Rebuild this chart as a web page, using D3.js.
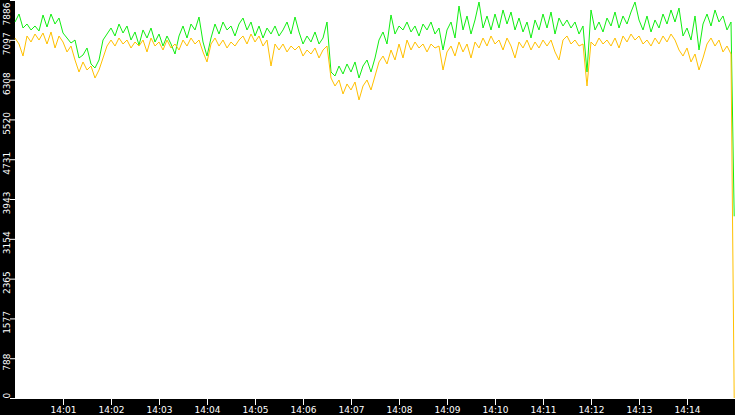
<!DOCTYPE html>
<html>
<head>
<meta charset="utf-8">
<script src="https://cdn.jsdelivr.net/npm/d3@7"></script>
<style>
  html, body { margin: 0; padding: 0; background: #000; overflow: hidden; }
  svg { display: block; }
  .axis text { font-family: "DejaVu Sans", sans-serif; font-size: 9px; fill: #fff; }
  .axis line, .axis path { stroke: #fff; }
</style>
</head>
<body>
<script>

// y axis tick labels (value scale tops out at 7886)
var yMax = 7886;
var yTicks = [0, 788, 1577, 2365, 3154, 3943, 4731, 5520, 6308, 7097, 7886];

// x axis: one tick per minute
var xTickLabels = ["14:01", "14:02", "14:03", "14:04", "14:05", "14:06", "14:07",
                   "14:08", "14:09", "14:10", "14:11", "14:12", "14:13", "14:14"];

// samples every 5 s from 14:00:00, last one at 14:14:59
var stepSec = 5;
var lastSec = 899;

var green = [
  7450, 7608, 7331, 7410, 7292, 7371, 7272, 7589, 7351, 7608,
  7410, 7529, 7232, 7133, 7034, 7093, 6737, 6796, 6935, 6618,
  6539, 6697, 7093, 7212, 7331, 7173, 7410, 7232, 7371, 7093,
  7252, 6994, 7292, 7133, 7331, 7054, 7212, 6974, 7173, 7014,
  6816, 7173, 7371, 7133, 7410, 7292, 7549, 7054, 6776, 7133,
  7410, 7212, 7450, 7292, 7371, 7173, 7410, 7529, 7292, 7450,
  7173, 7371, 7133, 7331, 7212, 7371, 7173, 7292, 7450, 7212,
  7549, 7252, 7014, 7173, 7054, 7252, 7014, 7133, 7450, 6459,
  6380, 6578, 6420, 6618, 6459, 6658, 6340, 6578, 6697, 6459,
  6737, 7093, 7252, 7014, 7589, 7212, 7371, 7292, 7450, 7252,
  7371, 7173, 7410, 7292, 7450, 7212, 7331, 6895, 7292, 7450,
  7133, 7767, 7292, 7569, 7212, 7490, 7846, 7331, 7569, 7292,
  7608, 7331, 7688, 7410, 7648, 7292, 7529, 7252, 7450, 7133,
  7490, 7292, 7608, 7331, 7648, 7212, 7529, 7371, 7490, 7331,
  7450, 7212, 7371, 6459, 7688, 7292, 7450, 7252, 7529, 7371,
  7648, 7331, 7569, 7410, 7648, 7846, 7490, 7292, 7569, 7252,
  7490, 7331, 7608, 7410, 7688, 7450, 7727, 7173, 7331, 7093,
  7569, 6895, 7410, 7608, 7371, 7688, 7450, 7569, 7292, 7450,
  3600
];

var orange = [
  7133, 7014, 6776, 7173, 7054, 7212, 7093, 7232, 7014, 7252,
  6935, 7173, 7054, 6856, 6974, 6697, 6459, 6658, 6499, 6578,
  6340, 6499, 6737, 6974, 7093, 6974, 7133, 7014, 7093, 6935,
  7054, 6974, 7093, 6856, 7133, 6974, 7054, 6895, 7093, 6935,
  7014, 6895, 7093, 6974, 7133, 7014, 7093, 6856, 6658, 7014,
  7133, 6974, 7093, 6935, 7054, 6974, 7093, 7173, 7014, 7212,
  7054, 7173, 6974, 7093, 6578, 7014, 6895, 7014, 6856, 6974,
  6895, 6974, 6776, 6895, 6816, 6935, 6737, 6895, 6974, 6340,
  6182, 6301, 6024, 6222, 6103, 6261, 5905, 6182, 6301, 6103,
  6380, 6658, 6776, 6618, 6895, 6697, 7014, 6737, 7093, 6895,
  7054, 6935, 7014, 6856, 7014, 6935, 6974, 6499, 6856, 6974,
  6776, 7054, 6856, 7014, 6737, 7054, 6935, 7133, 6974, 7173,
  7014, 7093, 6895, 7133, 6974, 6737, 7054, 6935, 7093, 6895,
  7054, 6935, 7093, 6974, 7093, 6856, 6697, 7093, 7173, 7014,
  7093, 6974, 7014, 6182, 7054, 6974, 7133, 7014, 7093, 6974,
  7133, 6935, 7173, 7054, 7212, 7093, 7173, 7014, 7093, 6974,
  7133, 7014, 7173, 7054, 7212, 7093, 6895, 6776, 6935, 6658,
  6816, 6499, 6737, 7014, 7133, 6974, 7093, 6856, 6974, 6816,
  0
];

var svg_width = 735,
    svg_height = 415,
    left = 15,
    bottom = 398;

var t0 = new Date(2000, 0, 1, 14, 0, 0);
function secToDate(s) { return new Date(t0.getTime() + s * 1000); }

// sample times: regular steps, last sample pinned to lastSec
var times = green.map(function (d, i) {
  return i === green.length - 1 ? secToDate(lastSec) : secToDate(i * stepSec);
});

var svg = d3.select("body").append("svg")
    .attr("width", svg_width)
    .attr("height", svg_height);

// black frame, white plot area
svg.append("rect")
    .attr("width", svg_width)
    .attr("height", svg_height)
    .attr("fill", "#000");

var x = d3.scaleTime()
    .domain([t0, secToDate(900)])
    .range([left, svg_width]);

var y = d3.scaleLinear()
    .domain([0, yMax])
    .range([bottom, 0]);

svg.append("rect")
    .attr("x", left)
    .attr("y", 0)
    .attr("width", svg_width - left)
    .attr("height", bottom)
    .attr("fill", "#fff");

// bottom axis
var parseHM = d3.timeParse("%H:%M");
var xTickDates = xTickLabels.map(function (s) {
  var p = parseHM(s);
  return new Date(2000, 0, 1, p.getHours(), p.getMinutes(), 0);
});

var xaxis = svg.append("g")
    .attr("class", "axis axis--x")
    .attr("transform", "translate(0," + bottom + ")")
    .call(d3.axisBottom(x)
        .tickValues(xTickDates)
        .tickFormat(function (d, i) { return xTickLabels[i]; })
        .tickSizeInner(7)
        .tickSizeOuter(0)
        .tickPadding(2));

xaxis.select(".domain").attr("d", "M" + (left - 5) + ",0.5H" + svg_width);
xaxis.selectAll("text").attr("dy", "0.72em");

// left axis, rotated labels a bit below the tick, clamped inside the plot height
var yaxis = svg.append("g")
    .attr("class", "axis axis--y")
    .attr("transform", "translate(" + left + ",0)")
    .call(d3.axisLeft(y)
        .tickValues(yTicks)
        .tickFormat(d3.format("d"))
        .tickSizeInner(5)
        .tickSizeOuter(0));

yaxis.select(".domain").remove();

yaxis.selectAll(".tick text")
    .attr("x", null)
    .attr("dy", null)
    .attr("text-anchor", "middle")
    .attr("transform", function (d) {
      var w = this.getComputedTextLength();
      var cy = Math.max(w / 2 + 2, Math.min(bottom - w / 2, y(d) + 3.5));
      return "translate(-5.5," + (cy - y(d)) + ")rotate(-90)";
    });

// lines
var line = d3.line()
    .x(function (d, i) { return x(times[i]); })
    .y(function (d) { return y(d); });

svg.append("path")
    .datum(green)
    .attr("fill", "none")
    .attr("stroke", "#11ee11")
    .attr("stroke-width", 1)
    .attr("d", line);

svg.append("path")
    .datum(orange)
    .attr("fill", "none")
    .attr("stroke", "#ffc000")
    .attr("stroke-width", 1)
    .attr("d", line);

</script>
</body>
</html>
